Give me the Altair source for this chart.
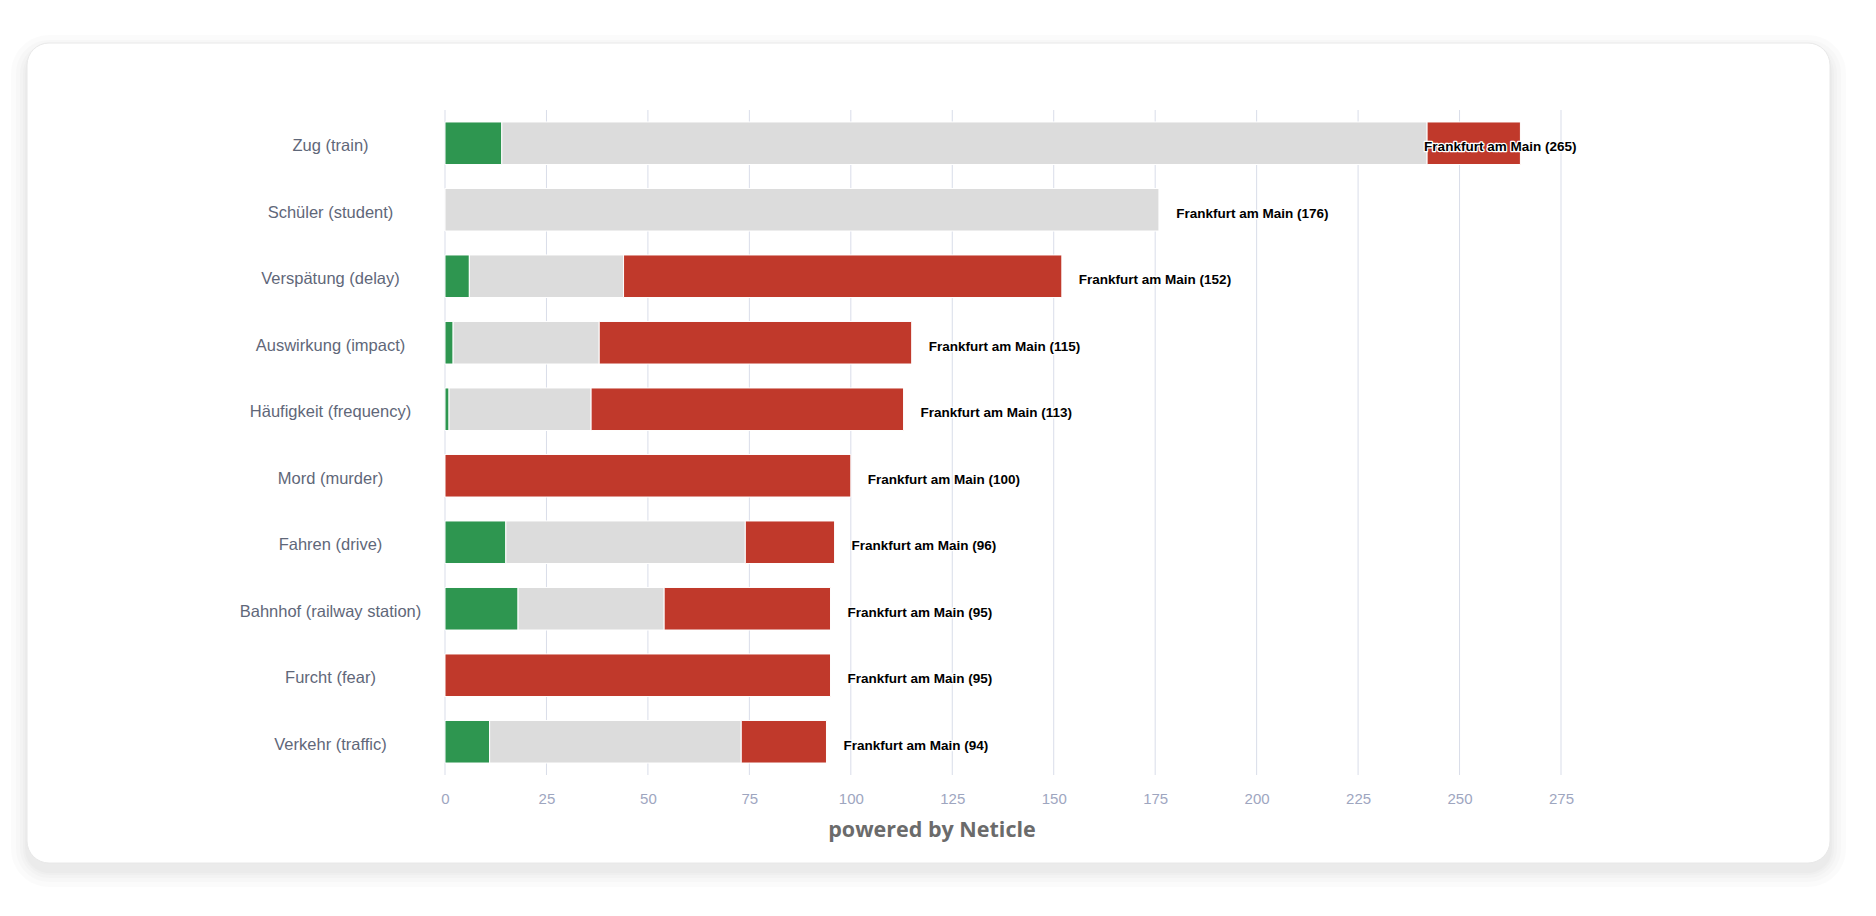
import altair as alt
import pandas as pd

# ---- data ----
categories = [
    "Zug (train)", "Schüler (student)", "Verspätung (delay)", "Auswirkung (impact)",
    "Häufigkeit (frequency)", "Mord (murder)", "Fahren (drive)",
    "Bahnhof (railway station)", "Furcht (fear)", "Verkehr (traffic)",
]
positive = [14, 0, 6, 2, 1, 0, 15, 18, 0, 11]
neutral = [228, 176, 38, 36, 35, 0, 59, 36, 0, 62]
negative = [23, 0, 108, 77, 77, 100, 22, 41, 95, 21]
city = "Frankfurt am Main"
x_ticks = [0, 25, 50, 75, 100, 125, 150, 175, 200, 225, 250, 275]
sentiments = ["positive", "neutral", "negative"]
sent_colors = ["#2e9650", "#dcdcdc", "#c0392b"]
credit = "powered by Neticle"

# ---- tables ----
rows = []
for i, c in enumerate(categories):
    for rank, (s, arr) in enumerate(zip(sentiments, [positive, neutral, negative])):
        rows.append({"category": c, "sentiment": s, "value": arr[i], "rank": rank})
long_df = pd.DataFrame(rows)

totals = [p + n + g for p, n, g in zip(positive, neutral, negative)]
tot_df = pd.DataFrame({
    "category": categories,
    "total": totals,
    "label": [f"{city} ({t})" for t in totals],
})
tick_df = pd.DataFrame({"t": x_ticks})
one = pd.DataFrame({"a": [0]})

W, H = 1116, 665
xscale = alt.Scale(domain=[0, 275], nice=False, zero=True)
yscale = alt.Scale(domain=categories, paddingInner=0.36, paddingOuter=0.18)
xaxis = alt.Axis(values=x_ticks, grid=False, domain=False, ticks=False, tickSize=0,
                 labelPadding=16, labelFontSize=15, labelColor="#9ea6bf",
                 labelFont="Liberation Sans", labelFlush=False, zindex=1, title=None)
yaxis = alt.Axis(domain=False, ticks=False, tickSize=0, grid=False,
                 labelAlign="center", labelBaseline="middle", labelPadding=115,
                 labelOffset=3, labelFontSize=16.5, labelColor="#5f6779",
                 labelFont="Liberation Sans", labelLimit=400, zindex=1, title=None)

# ---- card background with soft shadow (decoration) ----
cx1, cx2, cy1, cy2 = -418, 1385, -67, 753
layers = []
for s in [16, 11, 7, 4, 2]:
    layers.append(
        alt.Chart(one).mark_rect(cornerRadius=22 + s, color="#000000", opacity=0.016)
        .encode(x=alt.value(cx1 - s), x2=alt.value(cx2 + s),
                y=alt.value(cy1 - s + 8), y2=alt.value(cy2 + s + 8))
    )
card = alt.Chart(one).mark_rect(
    cornerRadius=22, fill="#ffffff", stroke="#e8e8e8", strokeWidth=1
).encode(x=alt.value(cx1), x2=alt.value(cx2), y=alt.value(cy1), y2=alt.value(cy2))
layers.append(card)

# ---- gridlines ----
grid = alt.Chart(tick_df).mark_rule(color="#d9dde9", strokeWidth=1).encode(
    x=alt.X("t:Q", scale=xscale, axis=xaxis, title=None)
)
layers.append(grid)

# ---- stacked bars ----
bars = alt.Chart(long_df).mark_bar(stroke="#ffffff", strokeWidth=1).encode(
    x=alt.X("value:Q", stack="zero", scale=xscale, axis=xaxis, title=None),
    y=alt.Y("category:N", scale=yscale, sort=categories, axis=yaxis, title=None),
    color=alt.Color("sentiment:N", scale=alt.Scale(domain=sentiments, range=sent_colors),
                    legend=None),
    order=alt.Order("rank:Q"),
)
layers.append(bars)

# ---- data labels with white halo ----
def label_layer(filt, align, dx, halo):
    kw = dict(align=align, baseline="middle", dx=dx, dy=4, font="Liberation Sans",
              fontSize=13.5, fontWeight="bold")
    if halo:
        kw.update(stroke="#ffffff", strokeWidth=2.5, strokeJoin="round", fill="#ffffff")
    else:
        kw.update(fill="#000000")
    return alt.Chart(tot_df).transform_filter(filt).mark_text(**kw).encode(
        x=alt.X("total:Q", scale=xscale, axis=xaxis, title=None),
        y=alt.Y("category:N", scale=yscale, sort=categories, axis=yaxis, title=None),
        text="label:N",
    )

for halo in (True, False):
    layers.append(label_layer("datum.total < 240", "left", 17, halo))
    layers.append(label_layer("datum.total >= 240", "right", 56, halo))

# ---- credit text ----
credit_text = alt.Chart(one).mark_text(
    text=credit, font="Open Sans", fontWeight="bold", fontSize=21.5, color="#6b6b6b",
    align="center", baseline="middle",
).encode(x=alt.value(487), y=alt.value(721))
layers.append(credit_text)

chart = alt.layer(*layers).properties(
    width=W, height=H,
    padding={"left": 437, "top": 102, "right": 290, "bottom": 120},
    autosize=alt.AutoSizeParams(type="none"),
    background="#ffffff",
).configure_view(stroke=None)

chart.save("out.html", embed_options={"renderer": "svg", "actions": False})
